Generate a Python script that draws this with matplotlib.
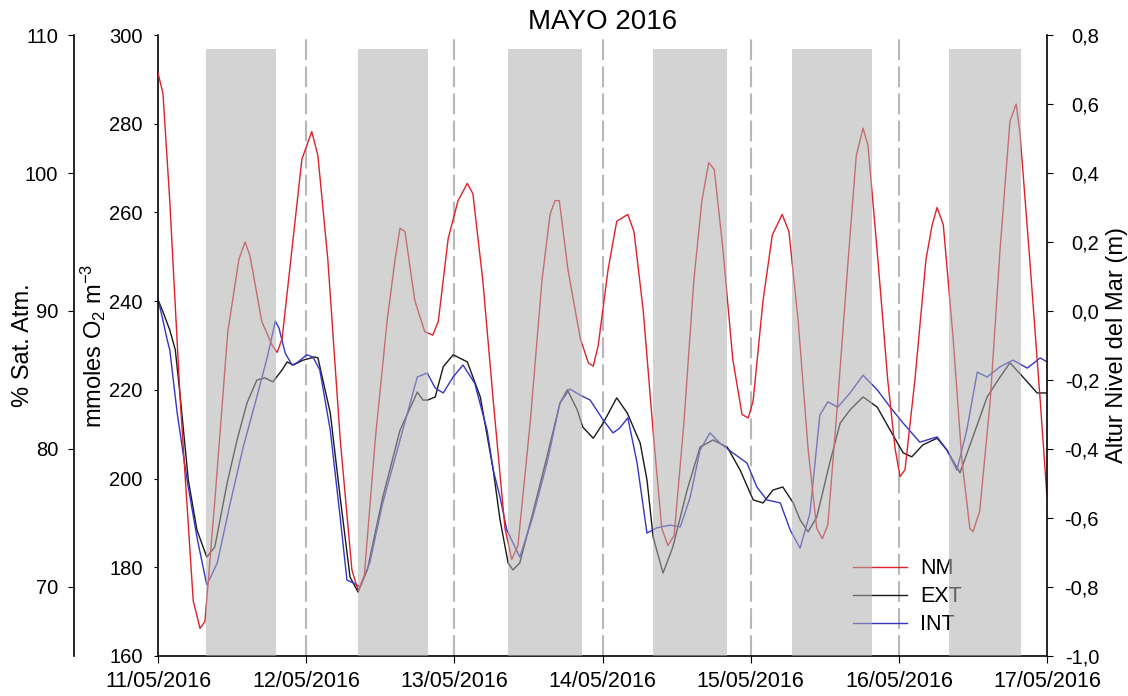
import numpy as np
import matplotlib.pyplot as plt
from matplotlib.ticker import FuncFormatter, MultipleLocator
import matplotlib.dates as mdates

plt.rcParams['font.family'] = ['Liberation Sans', 'DejaVu Sans']
plt.rcParams['mathtext.fontset'] = 'custom'
plt.rcParams['mathtext.rm'] = 'Liberation Sans'
plt.rcParams['mathtext.default'] = 'regular'

# hours counted from 11/05/2016 00:00
nm_hours = [0, 0.8, 1.9, 3.6, 5.7, 6.8, 7.6, 9.2, 11.3, 13.1,
            14.1, 14.9, 16.8, 18.5, 19.3, 20.1, 21.7, 23.3, 24.9, 25.9,
            27.5, 29.5, 31.4, 32.4, 33.4, 35.2, 37.1, 38.4, 39.2, 40.0,
            41.6, 43.2, 44.5, 45.4, 47.0, 48.6, 50.1, 51.0, 52.6, 54.3,
            56.2, 57.3, 58.3, 60.3, 62.2, 63.5, 64.3, 65.0, 66.4, 68.4,
            69.7, 70.5, 71.3, 72.9, 74.3, 76.1, 77.1, 78.6, 80.2, 81.6,
            82.6, 83.6, 85.2, 86.8, 88.1, 89.2, 90.1, 91.5, 93.1, 94.6,
            95.6, 96.4, 98.0, 99.5, 101.1, 102.2, 103.7, 105.3, 106.7, 107.6,
            108.5, 110.1, 111.8, 113.1, 114.2, 115.0, 116.6, 118.2, 119.4, 120.2,
            121.0, 122.6, 124.4, 125.4, 126.2, 127.2, 128.8, 130.2, 131.5, 132.0,
            133.1, 134.8, 136.4, 138.0, 139.0, 139.6, 141.2, 142.9, 144.0]
# sea level (m)
nm_level = [0.69, 0.63, 0.32, -0.26, -0.84, -0.92, -0.90, -0.55, -0.06, 0.15,
            0.20, 0.16, -0.03, -0.10, -0.12, -0.08, 0.18, 0.44, 0.52, 0.45,
            0.15, -0.37, -0.75, -0.81, -0.77, -0.37, -0.03, 0.15, 0.24, 0.23,
            0.03, -0.06, -0.07, -0.03, 0.21, 0.32, 0.37, 0.34, 0.09, -0.26,
            -0.63, -0.72, -0.68, -0.32, 0.09, 0.28, 0.32, 0.32, 0.12, -0.08,
            -0.15, -0.16, -0.10, 0.12, 0.26, 0.28, 0.23, 0.00, -0.35, -0.63,
            -0.68, -0.65, -0.32, 0.09, 0.32, 0.43, 0.41, 0.18, -0.14, -0.30,
            -0.31, -0.26, 0.03, 0.22, 0.28, 0.23, -0.03, -0.40, -0.63, -0.66,
            -0.62, -0.26, 0.15, 0.45, 0.53, 0.48, 0.15, -0.20, -0.40, -0.48,
            -0.46, -0.20, 0.15, 0.25, 0.30, 0.25, -0.08, -0.43, -0.63, -0.64,
            -0.58, -0.26, 0.18, 0.55, 0.60, 0.52, 0.15, -0.26, -0.54]

ext_hours = [0, 0.8, 1.9, 2.8, 3.6, 4.9, 6.3, 7.9, 9.2, 11.2,
             12.8, 14.4, 16.0, 17.3, 18.6, 20.1, 20.9, 21.9, 23.5, 25.4,
             25.9, 27.9, 29.5, 31.1, 32.4, 33.9, 36.4, 39.2, 42.0, 42.9,
             43.7, 44.9, 46.2, 47.8, 50.1, 52.2, 54.3, 55.4, 56.7, 57.5,
             58.6, 60.7, 63.0, 65.1, 66.3, 67.9, 68.8, 70.5, 72.1, 74.3,
             76.0, 78.1, 79.2, 80.2, 81.8, 83.4, 85.7, 87.8, 89.9, 92.2,
             94.3, 96.4, 98.0, 99.6, 101.2, 102.9, 104.0, 105.3, 106.7, 108.8,
             110.5, 112.1, 114.2, 116.5, 118.6, 120.7, 122.1, 123.9, 126.2, 127.8,
             129.9, 132.0, 134.3, 136.4, 138.0, 140.1, 142.4, 144.0]
ext_o2 = [240.3, 237.6, 233.5, 229.0, 218.4, 199.7, 188.4, 182.3, 184.6, 199.0,
          208.7, 217.0, 222.2, 222.7, 221.8, 224.5, 226.3, 225.6, 226.7, 227.4,
          227.2, 214.8, 195.8, 177.8, 174.4, 179.4, 195.8, 210.9, 219.5, 217.7,
          217.7, 218.4, 225.2, 227.9, 226.3, 218.4, 201.9, 190.7, 181.0, 179.4,
          181.0, 192.2, 204.9, 217.0, 220.0, 215.5, 211.6, 209.1, 212.5, 218.2,
          214.8, 208.0, 199.7, 186.8, 178.7, 184.6, 197.4, 207.1, 208.7, 207.1,
          201.9, 195.2, 194.5, 197.4, 198.1, 194.5, 190.7, 188.0, 191.3, 203.5,
          212.5, 215.5, 218.4, 216.1, 210.9, 205.8, 204.9, 207.6, 209.1, 206.4,
          201.3, 209.4, 218.4, 222.9, 226.1, 222.9, 219.3, 219.3]

int_hours = [0, 0.6, 1.5, 1.9, 3.1, 4.7, 6.3, 7.9, 9.6, 11.7,
             13.8, 16.0, 17.7, 19.0, 19.6, 20.6, 21.7, 22.5, 24.1, 25.1,
             26.2, 27.9, 29.5, 30.6, 31.6, 32.7, 34.3, 36.4, 39.2, 42.0,
             43.6, 44.9, 46.2, 47.8, 49.4, 51.3, 53.3, 54.3, 55.4, 56.5,
             58.6, 60.7, 63.0, 65.1, 66.7, 68.4, 70.0, 72.1, 73.7, 74.8,
             76.1, 77.6, 79.2, 80.8, 82.9, 84.6, 86.2, 87.8, 89.4, 91.0,
             93.1, 95.4, 97.0, 98.6, 100.8, 102.4, 104.0, 105.6, 107.2, 108.5,
             110.1, 112.1, 114.2, 116.5, 118.6, 120.7, 123.4, 126.2, 127.8, 129.4,
             131.0, 132.7, 134.3, 136.4, 138.5, 140.8, 142.9, 144.0]
int_o2 = [240.3, 236.9, 231.2, 229.0, 214.8, 199.7, 186.8, 176.0, 181.0, 194.5,
          207.1, 218.4, 227.4, 235.5, 233.9, 228.3, 225.6, 226.1, 227.9, 227.4,
          224.5, 210.9, 191.3, 177.1, 176.5, 175.6, 181.0, 194.5, 208.7, 222.9,
          223.8, 220.4, 219.3, 222.9, 225.6, 221.5, 210.9, 201.9, 195.8, 188.4,
          182.3, 191.3, 203.5, 217.0, 220.2, 218.8, 217.7, 213.2, 210.3, 211.4,
          213.7, 203.5, 187.7, 188.9, 189.5, 189.1, 195.8, 206.4, 210.3, 208.0,
          205.8, 203.5, 198.1, 195.2, 194.5, 188.4, 184.3, 192.2, 214.3, 217.3,
          216.1, 219.3, 223.3, 220.0, 216.1, 212.5, 208.2, 209.4, 206.4, 201.9,
          210.9, 224.0, 222.9, 225.2, 226.7, 224.9, 227.2, 226.3]

# shaded night periods (hours)
night_start = [7.8, 32.4, 56.7, 80.2, 102.7, 128.1]
night_end = [19.1, 43.7, 68.7, 92.2, 115.7, 139.8]

t0 = np.datetime64('2016-05-11T00:00')


def to_time(hours):
    return t0 + np.round(np.asarray(hours) * 60).astype(int) * np.timedelta64(1, 'm')


def comma_fmt(v, pos):
    return f'{round(v, 1) + 0.0:.1f}'.replace('.', ',')


fig = plt.figure(figsize=(11.28, 6.96), dpi=100)
ax = fig.add_axes([0.1401, 0.0575, 0.7881, 0.8922])
ax_sat = ax.twinx()
ax_nm = ax.twinx()

# day boundaries
for d in range(1, 6):
    ax.axvline(to_time(24 * d), color='#b8b8b8', lw=1.5, ls=(0, (10, 3)), zorder=1)

l_ext, = ax.plot(to_time(ext_hours), ext_o2, color='#1a1a1a', lw=1.0, label='EXT', zorder=2)
l_int, = ax.plot(to_time(int_hours), int_o2, color='#3535c8', lw=1.0, label='INT', zorder=2)
l_nm, = ax_nm.plot(to_time(nm_hours), nm_level, color='#e0202a', lw=1.0, label='NM', zorder=2)

ax.set_xlim(to_time(0), to_time(144))
ax.set_ylim(160, 300)
ax.yaxis.set_major_locator(MultipleLocator(20))
ax.xaxis.set_major_locator(mdates.DayLocator())
ax.xaxis.set_major_formatter(mdates.DateFormatter('%d/%m/%Y'))
ax.spines['top'].set_visible(False)
ax.spines['right'].set_visible(False)
ax.tick_params(axis='y', length=3, pad=8, labelsize=14.5)
ax.tick_params(axis='x', length=5, pad=6, labelsize=15.5)
ax.set_ylabel('mmoles O$_2$ m$^{-3}$', fontsize=17)
ax.yaxis.set_label_coords(-0.056, 0.5)

# % saturation scale on a second left spine
ax_sat.set_ylim(65, 110)
ax_sat.yaxis.set_major_locator(MultipleLocator(10))
ax_sat.spines['left'].set_position(('axes', -0.0945))
ax_sat.spines['left'].set_visible(True)
for s in ['right', 'top', 'bottom']:
    ax_sat.spines[s].set_visible(False)
ax_sat.yaxis.set_ticks_position('left')
ax_sat.yaxis.set_label_position('left')
ax_sat.tick_params(axis='y', length=4.5, pad=7, labelsize=14.5)
ax_sat.set_ylabel('% Sat. Atm.', fontsize=17)
ax_sat.yaxis.set_label_coords(-0.139, 0.5)

# sea level on the right
ax_nm.set_ylim(-1.0, 0.8)
ax_nm.set_yticks(np.arange(-1.0, 0.81, 0.2))
ax_nm.yaxis.set_major_formatter(FuncFormatter(comma_fmt))
for s in ['left', 'top', 'bottom']:
    ax_nm.spines[s].set_visible(False)
ax_nm.tick_params(axis='y', length=4.5, pad=33, labelsize=14.5)
plt.setp(ax_nm.get_yticklabels(), ha='right')
ax_nm.set_ylabel('Altur Nivel del Mar (m)', fontsize=17)
ax_nm.yaxis.set_label_coords(1.066, 0.5)

leg = ax_nm.legend(handles=[l_nm, l_ext, l_int], loc='upper left',
                   bbox_to_anchor=(0.782, 0.157), frameon=False, fontsize=15.5,
                   handlelength=2.5, handletextpad=0.6, labelspacing=0.32,
                   borderaxespad=0, borderpad=0)
leg.set_zorder(2.5)

# night bands sit above the traces
for a, b in zip(night_start, night_end):
    ax_nm.axvspan(to_time(a), to_time(b), ymin=0, ymax=0.977,
                  color='#afafaf', alpha=0.55, lw=0, zorder=3)

for a in (ax, ax_sat, ax_nm):
    for s in a.spines.values():
        s.set_linewidth(1.2)

ax.set_title('MAYO 2016', fontsize=20, pad=3)

fig.savefig('out.png', dpi=100)
